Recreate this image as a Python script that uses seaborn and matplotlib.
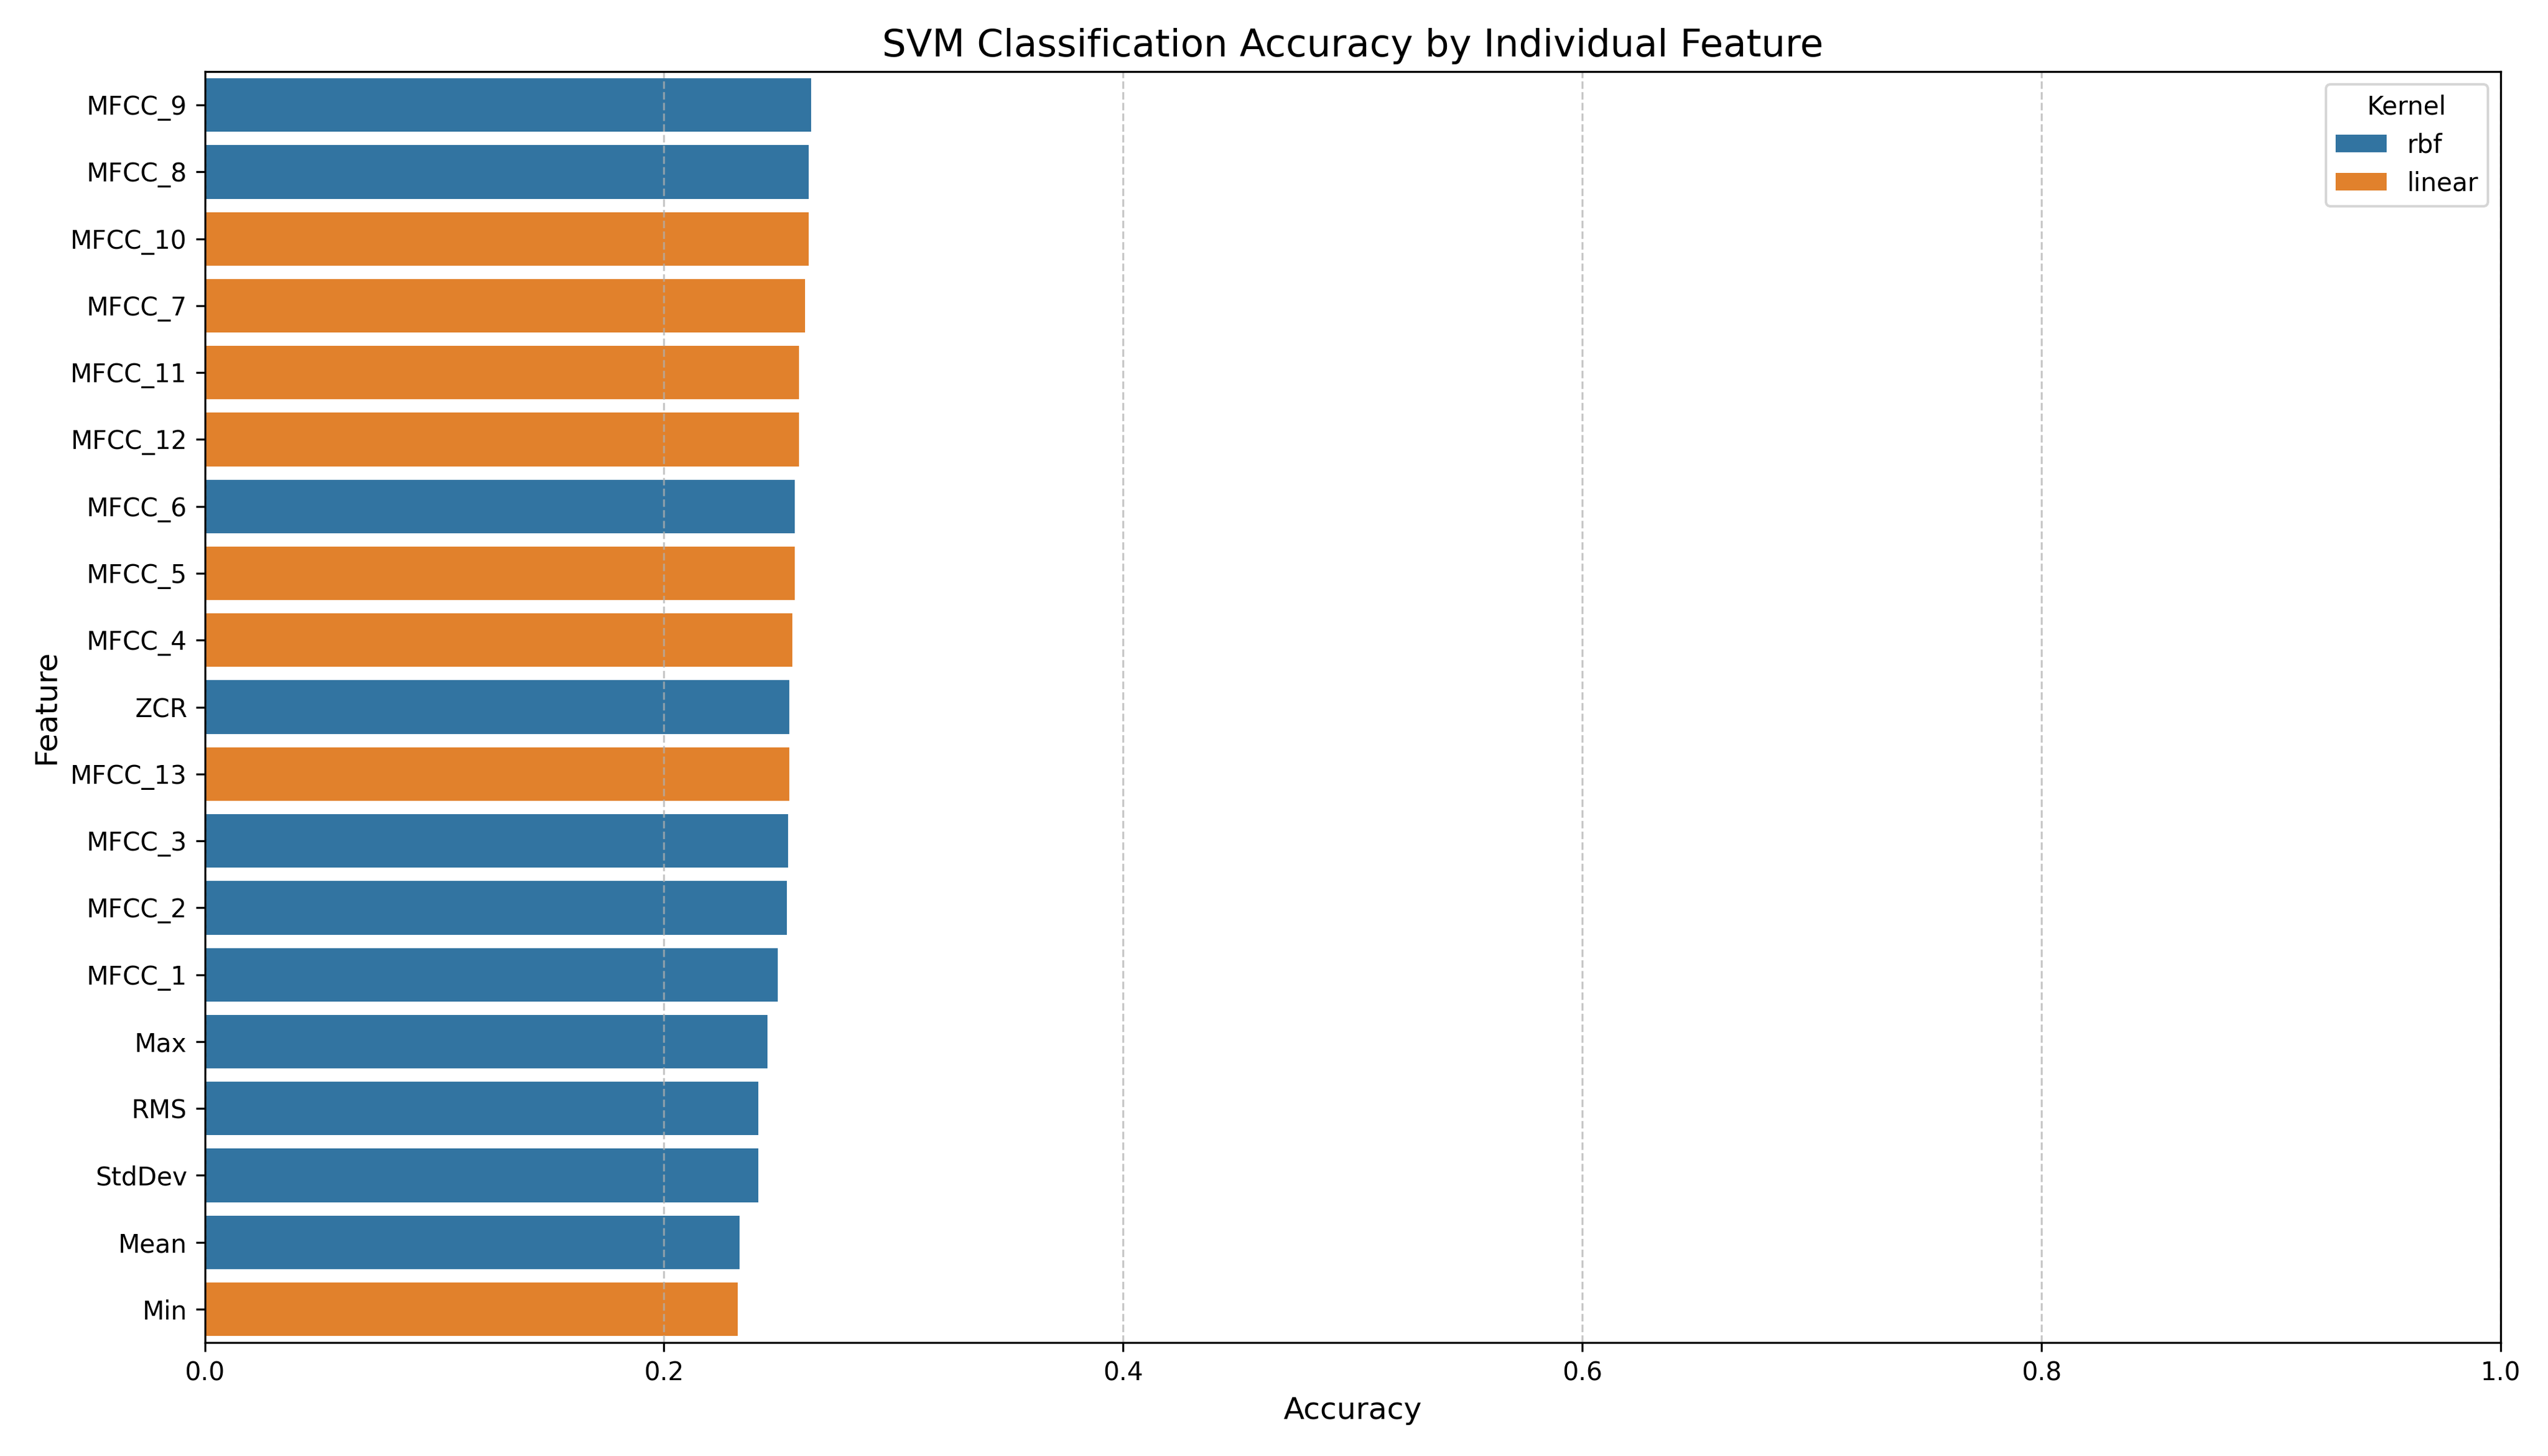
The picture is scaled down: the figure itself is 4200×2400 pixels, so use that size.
import matplotlib
matplotlib.use("Agg")
import matplotlib.pyplot as plt
import seaborn as sns
import pandas as pd

features = ["MFCC_9", "MFCC_8", "MFCC_10", "MFCC_7", "MFCC_11", "MFCC_12", "MFCC_6",
            "MFCC_5", "MFCC_4", "ZCR", "MFCC_13", "MFCC_3", "MFCC_2", "MFCC_1",
            "Max", "RMS", "StdDev", "Mean", "Min"]
accuracy = [0.264, 0.263, 0.263, 0.2615, 0.2587, 0.2587, 0.257,
            0.257, 0.256, 0.2545, 0.2545, 0.2540, 0.2535, 0.2495,
            0.245, 0.241, 0.241, 0.233, 0.232]
kernels = ["rbf", "rbf", "linear", "linear", "linear", "linear", "rbf",
           "linear", "linear", "rbf", "linear", "rbf", "rbf", "rbf",
           "rbf", "rbf", "rbf", "rbf", "linear"]

df = pd.DataFrame({"Feature": features, "Accuracy": accuracy, "Kernel": kernels})

fig, ax = plt.subplots(figsize=(14, 8))
sns.barplot(data=df, x="Accuracy", y="Feature", hue="Kernel", dodge=False,
            hue_order=["rbf", "linear"], palette=["#1f77b4", "#ff7f0e"], ax=ax)
ax.set_xlim(0, 1.0)
ax.set_title("SVM Classification Accuracy by Individual Feature", fontsize=15)
ax.set_xlabel("Accuracy", fontsize=12)
ax.set_ylabel("Feature", fontsize=12)
ax.grid(axis="x", linestyle="--", alpha=0.7)
ax.legend(title="Kernel", loc="upper right")
plt.tight_layout()
plt.savefig("out.png", dpi=300)
